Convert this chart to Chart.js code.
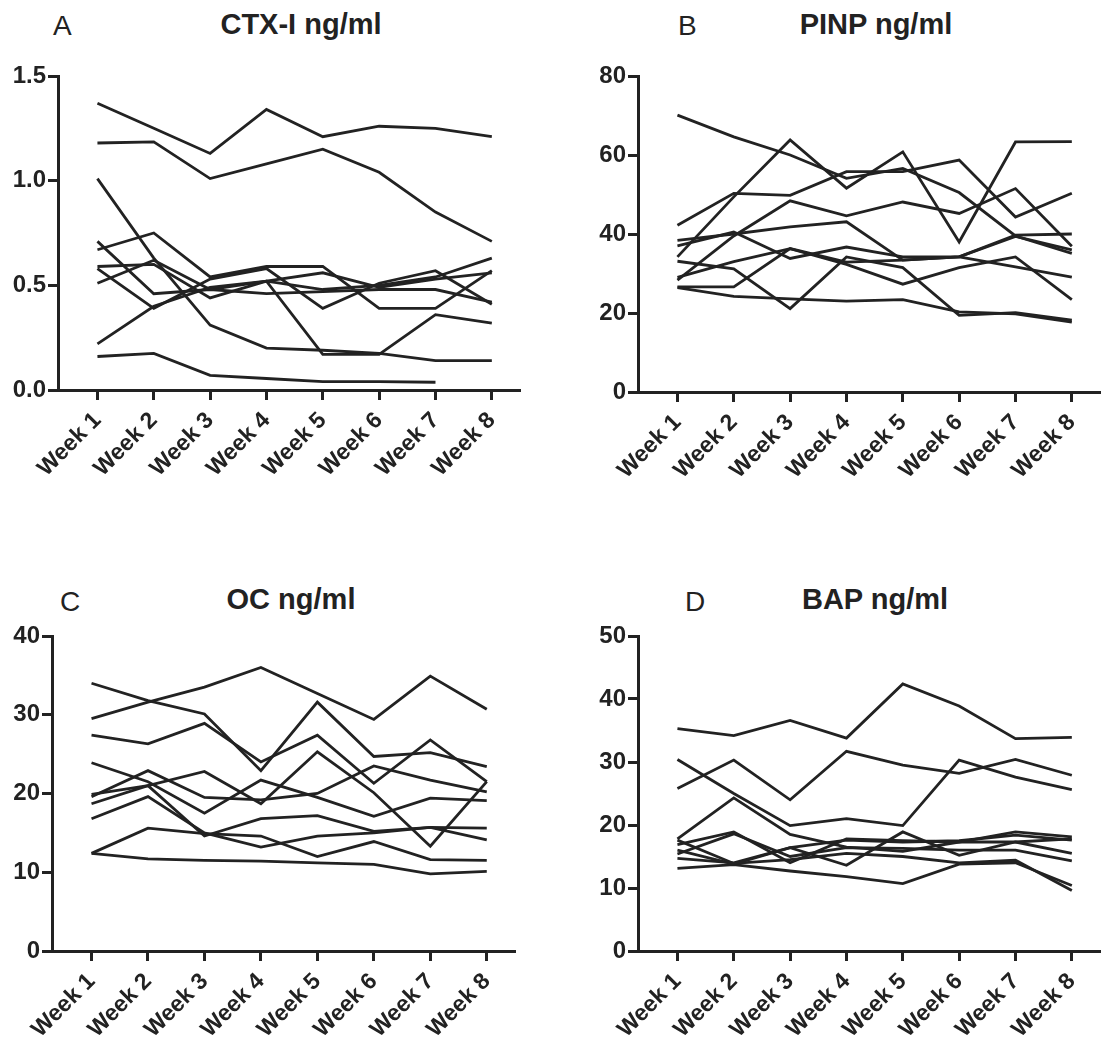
<!DOCTYPE html>
<html>
<head>
<meta charset="utf-8">
<script src="https://cdn.jsdelivr.net/npm/chart.js@4.4.1/dist/chart.umd.min.js"></script>
<style>
  body { margin: 0; background: #fff; width: 1103px; height: 1042px; position: relative; overflow: hidden;
         font-family: "Liberation Sans", Arial, sans-serif; color: #222; }
  canvas { position: absolute; }
  .letter { position: absolute; font-size: 28px; line-height: 1; }
  .title { position: absolute; font-size: 29px; font-weight: bold; line-height: 1; transform: translateX(-50%); white-space: nowrap; }
</style>
</head>
<body>
<div class="letter" style="left:53px;top:12px">A</div>
<div class="title" style="left:301px;top:10px">CTX-I ng/ml</div>
<div class="letter" style="left:678px;top:12px">B</div>
<div class="title" style="left:876px;top:10px">PINP ng/ml</div>
<div class="letter" style="left:60px;top:588px">C</div>
<div class="title" style="left:291px;top:585px">OC ng/ml</div>
<div class="letter" style="left:685px;top:588px">D</div>
<div class="title" style="left:875px;top:585px">BAP ng/ml</div>

<canvas id="pa"></canvas>
<canvas id="pb"></canvas>
<canvas id="pc"></canvas>
<canvas id="pd"></canvas>

<script>
const weeks = ["Week 1", "Week 2", "Week 3", "Week 4", "Week 5", "Week 6", "Week 7", "Week 8"];

// A - CTX-I ng/ml, one row per subject
const ctxI = [
  [1.37, 1.25, 1.13, 1.34, 1.21, 1.26, 1.25, 1.21],
  [1.18, 1.185, 1.01, 1.08, 1.15, 1.04, 0.85, 0.71],
  [1.01, 0.63, 0.31, 0.2, 0.19, 0.175, 0.14, 0.14],
  [0.16, 0.175, 0.07, 0.055, 0.04, 0.04, 0.037, null],
  [0.22, 0.40, 0.49, 0.52, 0.48, 0.50, 0.54, 0.63],
  [0.71, 0.46, 0.48, 0.46, 0.47, 0.48, 0.48, 0.42],
  [0.58, 0.39, 0.53, 0.58, 0.39, 0.51, 0.57, 0.41],
  [0.59, 0.60, 0.44, 0.52, 0.56, 0.49, 0.53, 0.56],
  [0.67, 0.75, 0.54, 0.59, 0.59, 0.39, 0.39, 0.57],
  [0.51, 0.62, 0.48, 0.52, 0.17, 0.17, 0.36, 0.32],
];

// B - PINP ng/ml
const pinp = [
  [70.1, 64.6, 60.0, 54.1, 56.6, 50.5, 39.5, 35.1],
  [34.2, 49.4, 63.8, 51.6, 60.8, 38.0, 63.3, 63.4],
  [42.2, 50.3, 49.8, 55.8, 55.8, 58.7, 44.3, 50.3],
  [28.3, 39.5, 48.4, 44.6, 48.1, 45.2, 51.5, 36.9],
  [38.4, 40.0, 41.8, 43.1, 33.4, 34.2, 39.7, 40.0],
  [37.0, 40.5, 33.8, 36.7, 34.2, 34.2, 31.7, 29.1],
  [26.6, 26.6, 36.3, 32.9, 33.4, 34.2, 39.4, 36.0],
  [33.1, 31.2, 21.1, 34.2, 31.5, 19.4, 20.1, 18.2],
  [26.4, 24.2, 23.6, 23.0, 23.4, 20.3, 19.8, 17.7],
  [29.0, 33.0, 36.3, 32.3, 27.3, 31.5, 34.2, 23.4],
];

// C - OC ng/ml
const oc = [
  [29.5, 31.6, 33.5, 36.0, 32.7, 29.4, 34.9, 30.7],
  [34.0, 31.8, 30.1, 22.9, 31.6, 24.7, 25.2, 23.4],
  [27.4, 26.3, 28.9, 24.0, 27.4, 21.3, 26.8, 21.5],
  [23.9, 21.5, 17.5, 21.7, 19.5, 17.1, 19.4, 19.1],
  [19.9, 21.0, 22.8, 18.7, 25.3, 20.1, 13.3, 21.5],
  [19.6, 22.9, 19.5, 19.2, 20.0, 23.5, 21.7, 20.2],
  [18.7, 21.0, 14.6, 16.8, 17.2, 15.2, 15.7, 14.1],
  [16.8, 19.6, 15.0, 13.2, 14.6, 15.0, 15.7, 15.6],
  [12.4, 15.6, 14.9, 14.6, 12.0, 13.9, 11.6, 11.5],
  [12.4, 11.7, 11.5, 11.4, 11.2, 11.0, 9.8, 10.1],
];

// D - BAP ng/ml
const bap = [
  [35.3, 34.2, 36.6, 33.8, 42.4, 38.9, 33.7, 33.9],
  [25.8, 30.3, 24.0, 31.7, 29.5, 28.2, 30.4, 27.9],
  [30.4, 25.0, 19.9, 21.0, 19.9, 30.3, 27.6, 25.6],
  [17.8, 24.3, 18.5, 16.5, 15.8, 17.3, 17.3, 15.5],
  [17.6, 13.9, 14.5, 15.5, 15.0, 14.0, 14.4, 9.6],
  [16.9, 18.9, 14.0, 17.8, 17.5, 17.3, 18.9, 18.1],
  [16.0, 13.8, 16.4, 13.6, 18.9, 15.2, 17.3, 17.8],
  [15.4, 18.6, 15.0, 16.4, 16.3, 16.0, 16.0, 14.3],
  [14.7, 14.0, 16.4, 17.6, 17.3, 17.5, 18.4, 17.6],
  [13.1, 13.7, 12.7, 11.8, 10.7, 13.8, 14.0, 10.4],
];

const INK = "#222";
const FONT = "'Liberation Sans', Arial, sans-serif";

function drawPanel(id, series, yMax, yStep, digits, box, area) {
  const el = document.getElementById(id);
  el.width = box.width;
  el.height = box.height;
  el.style.left = box.left + "px";
  el.style.top = box.top + "px";

  new Chart(el, {
    type: "line",
    data: {
      datasets: series.map((s) => ({
        data: s.map((v, i) => ({ x: i + 1, y: v })),
        borderColor: INK,
        borderWidth: 2.8,
        pointRadius: 0,
        fill: false,
        spanGaps: false,
      })),
    },
    options: {
      responsive: false,
      animation: false,
      devicePixelRatio: 1,
      layout: {
        padding: { left: 0, top: area.top - box.top, right: box.left + box.width - area.right, bottom: 0 },
      },
      plugins: { legend: { display: false }, tooltip: { enabled: false } },
      scales: {
        x: {
          type: "linear",
          min: 0.3,
          max: 8.5,
          afterBuildTicks: (s) => { s.ticks = weeks.map((w, i) => ({ value: i + 1 })); },
          afterFit: (s) => { s.height = box.top + box.height - area.bottom; },
          border: { display: true, color: INK, width: 3 },
          grid: { drawOnChartArea: false, drawTicks: true, tickLength: 10, tickWidth: 3, tickColor: INK },
          ticks: {
            autoSkip: false,
            maxRotation: 45,
            minRotation: 45,
            padding: 7,
            color: INK,
            font: { family: FONT, size: 23, weight: "bold" },
            callback: (v) => weeks[v - 1],
          },
        },
        y: {
          min: 0,
          max: yMax,
          afterFit: (s) => { s.width = area.left - box.left; },
          border: { display: true, color: INK, width: 3 },
          grid: { drawOnChartArea: false, drawTicks: true, tickLength: 10, tickWidth: 3, tickColor: INK },
          ticks: {
            stepSize: yStep,
            padding: 2,
            color: INK,
            font: { family: FONT, size: 24, weight: "bold" },
            callback: (v) => v.toFixed(digits),
          },
        },
      },
    },
  });
}

drawPanel("pa", ctxI, 1.5, 0.5, 1,
  { left: 0, top: 50, width: 545, height: 480 }, { left: 58, top: 76, right: 520, bottom: 390 });
drawPanel("pb", pinp, 80, 20, 0,
  { left: 551, top: 50, width: 552, height: 480 }, { left: 638, top: 76, right: 1100, bottom: 392 });
drawPanel("pc", oc, 40, 10, 0,
  { left: 0, top: 610, width: 545, height: 432 }, { left: 52, top: 636, right: 515, bottom: 951 });
drawPanel("pd", bap, 50, 10, 0,
  { left: 551, top: 610, width: 552, height: 432 }, { left: 638, top: 636, right: 1100, bottom: 951 });
</script>
</body>
</html>
